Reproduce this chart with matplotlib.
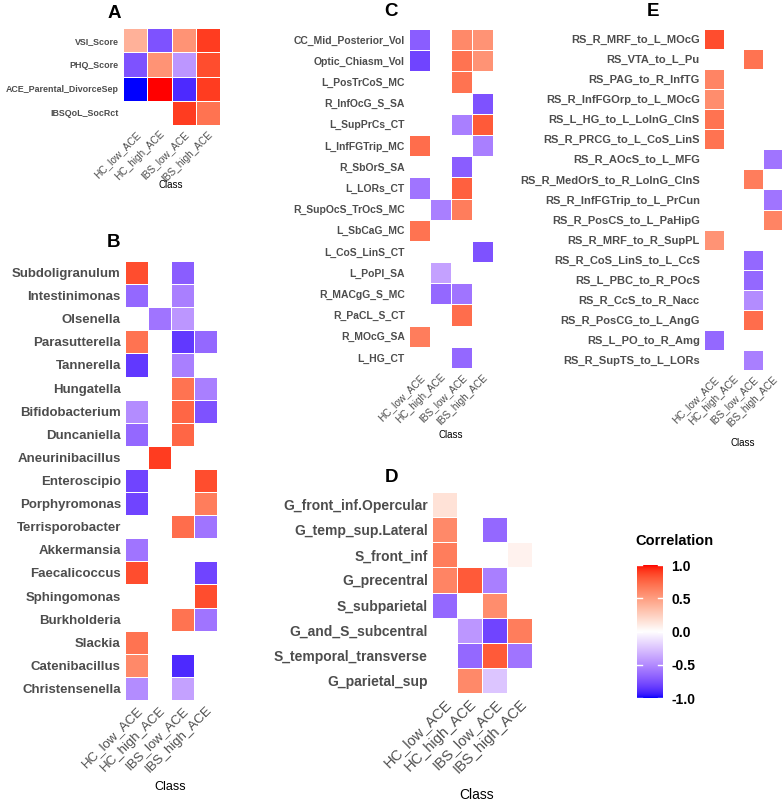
import numpy as np
import matplotlib
matplotlib.use("Agg")
import matplotlib.pyplot as plt
from matplotlib.colors import ListedColormap

plt.rcParams["font.family"] = ["Liberation Sans", "DejaVu Sans"]

NA = np.nan
CLASSES = ["HC_low_ACE", "HC_high_ACE", "IBS_low_ACE", "IBS_high_ACE"]

A_ROWS = ["VSI_Score", "PHQ_Score", "ACE_Parental_DivorceSep", "IBSQoL_SocRct"]
A_VALUES = [
    [0.40, -0.75, 0.55, 0.90],
    [-0.75, 0.55, -0.45, 0.85],
    [-1.00, 1.00, -0.90, 0.90],
    [NA, NA, 0.90, 0.70],
]

B_ROWS = ["Subdoligranulum", "Intestinimonas", "Olsenella", "Parasutterella",
          "Tannerella", "Hungatella", "Bifidobacterium", "Duncaniella",
          "Aneurinibacillus", "Enteroscipio", "Porphyromonas", "Terrisporobacter",
          "Akkermansia", "Faecalicoccus", "Sphingomonas", "Burkholderia",
          "Slackia", "Catenibacillus", "Christensenella"]
B_VALUES = [
    [0.85, NA, -0.70, NA],
    [-0.65, NA, -0.55, NA],
    [NA, -0.60, -0.45, NA],
    [0.70, NA, -0.85, -0.65],
    [-0.85, NA, -0.55, NA],
    [NA, NA, 0.70, -0.55],
    [-0.50, NA, 0.75, -0.75],
    [-0.65, NA, 0.75, NA],
    [NA, 0.90, NA, NA],
    [-0.80, NA, NA, 0.85],
    [-0.80, NA, NA, 0.65],
    [NA, NA, 0.72, -0.60],
    [-0.60, NA, NA, NA],
    [0.85, NA, NA, -0.80],
    [NA, NA, NA, 0.85],
    [NA, NA, 0.70, -0.60],
    [0.70, NA, NA, NA],
    [0.60, NA, -0.90, NA],
    [-0.50, NA, -0.40, NA],
]

C_ROWS = ["CC_Mid_Posterior_Vol", "Optic_Chiasm_Vol", "L_PosTrCoS_MC", "R_InfOcG_S_SA",
          "L_SupPrCs_CT", "L_InfFGTrip_MC", "R_SbOrS_SA", "L_LORs_CT",
          "R_SupOcS_TrOcS_MC", "L_SbCaG_MC", "L_CoS_LinS_CT", "L_PoPl_SA",
          "R_MACgG_S_MC", "R_PaCL_S_CT", "R_MOcG_SA", "L_HG_CT"]
C_VALUES = [
    [-0.70, NA, 0.60, 0.55],
    [-0.80, NA, 0.70, 0.55],
    [NA, NA, 0.70, NA],
    [NA, NA, NA, -0.75],
    [NA, NA, -0.55, 0.80],
    [0.72, NA, NA, -0.55],
    [NA, NA, -0.70, NA],
    [-0.60, NA, 0.78, NA],
    [NA, -0.55, 0.65, NA],
    [0.70, NA, NA, NA],
    [NA, NA, NA, -0.75],
    [NA, -0.40, NA, NA],
    [NA, -0.65, -0.60, NA],
    [NA, NA, 0.72, NA],
    [0.65, NA, NA, NA],
    [NA, NA, -0.65, NA],
]

D_ROWS = ["G_front_inf.Opercular", "G_temp_sup.Lateral", "S_front_inf", "G_precentral",
          "S_subparietal", "G_and_S_subcentral", "S_temporal_transverse", "G_parietal_sup"]
D_VALUES = [
    [0.15, NA, NA, NA],
    [0.60, NA, -0.65, NA],
    [0.65, NA, NA, 0.07],
    [0.62, 0.80, -0.55, NA],
    [-0.65, NA, 0.58, NA],
    [NA, -0.45, -0.80, 0.65],
    [NA, -0.65, 0.80, -0.60],
    [NA, 0.60, -0.25, NA],
]

E_ROWS = ["RS_R_MRF_to_L_MOcG", "RS_VTA_to_L_Pu", "RS_PAG_to_R_InfTG",
          "RS_R_InfFGOrp_to_L_MOcG", "RS_L_HG_to_L_LoInG_CInS", "RS_R_PRCG_to_L_CoS_LinS",
          "RS_R_AOcS_to_L_MFG", "RS_R_MedOrS_to_R_LoInG_CInS", "RS_R_InfFGTrip_to_L_PrCun",
          "RS_R_PosCS_to_L_PaHipG", "RS_R_MRF_to_R_SupPL", "RS_R_CoS_LinS_to_L_CcS",
          "RS_L_PBC_to_R_POcS", "RS_R_CcS_to_R_Nacc", "RS_R_PosCG_to_L_AngG",
          "RS_L_PO_to_R_Amg", "RS_R_SupTS_to_L_LORs"]
E_VALUES = [
    [0.85, NA, NA, NA],
    [NA, NA, 0.70, NA],
    [0.62, NA, NA, NA],
    [0.58, NA, NA, NA],
    [0.70, NA, NA, NA],
    [0.70, NA, NA, NA],
    [NA, NA, NA, -0.60],
    [NA, NA, 0.65, NA],
    [NA, NA, NA, -0.60],
    [NA, NA, NA, 0.62],
    [0.55, NA, NA, NA],
    [NA, NA, -0.65, NA],
    [NA, NA, -0.65, NA],
    [NA, NA, -0.50, NA],
    [NA, NA, 0.72, NA],
    [-0.65, NA, NA, NA],
    [NA, NA, -0.55, NA],
]

CBAR_TICKS = [-1.0, -0.5, 0.0, 0.5, 1.0]

W, H = 784, 801
GREY = "#4D4D4D"


# ggplot-style gradient2 (blue - white - red), interpolated in CIELAB
WHITE_REF = np.array([0.95047, 1.0, 1.08883])
M_RGB2XYZ = np.array([[0.4124, 0.3576, 0.1805],
                      [0.2126, 0.7152, 0.0722],
                      [0.0193, 0.1192, 0.9505]])


def rgb_to_lab(rgb):
    c = np.asarray(rgb, dtype=float)
    lin = np.where(c <= 0.04045, c / 12.92, ((c + 0.055) / 1.055) ** 2.4)
    xyz = M_RGB2XYZ @ lin / WHITE_REF
    d = 6 / 29
    f = np.where(xyz > d ** 3, np.cbrt(xyz), xyz / (3 * d * d) + 4 / 29)
    return np.array([116 * f[1] - 16, 500 * (f[0] - f[1]), 200 * (f[1] - f[2])])


def lab_to_rgb(lab):
    L, a, b = lab
    fy = (L + 16) / 116
    f = np.array([fy + a / 500, fy, fy - b / 200])
    d = 6 / 29
    xyz = np.where(f > d, f ** 3, 3 * d * d * (f - 4 / 29)) * WHITE_REF
    lin = np.linalg.solve(M_RGB2XYZ, xyz)
    lin = np.clip(lin, 0, 1)
    c = np.where(lin <= 0.0031308, 12.92 * lin, 1.055 * lin ** (1 / 2.4) - 0.055)
    return np.clip(c, 0, 1)


def make_cmap(n=256):
    blue, white, red = rgb_to_lab([0, 0, 1]), rgb_to_lab([1, 1, 1]), rgb_to_lab([1, 0, 0])
    cols = []
    for t in np.linspace(-1, 1, n):
        if t < 0:
            lab = white + (blue - white) * (-t)
        else:
            lab = white + (red - white) * t
        cols.append(lab_to_rgb(lab))
    return ListedColormap(cols)


CMAP = make_cmap()


def px_axes(fig, x, y, w, h):
    return fig.add_axes([x / W, 1 - (y + h) / H, w / W, h / H])


def draw_panel(ax, rows, values, ysize, xsize):
    data = np.ma.masked_invalid(np.array(values, dtype=float))
    ax.pcolormesh(data, cmap=CMAP, vmin=-1, vmax=1, edgecolors="white", linewidth=0.6)
    ax.set_xlim(0, len(CLASSES))
    ax.set_ylim(len(rows), 0)
    ax.set_yticks(np.arange(len(rows)) + 0.5)
    ax.set_yticklabels(rows, fontsize=ysize, fontweight="bold", color=GREY)
    ax.set_xticks(np.arange(len(CLASSES)) + 0.5)
    ax.set_xticklabels(CLASSES, fontsize=xsize, color=GREY, rotation=45,
                       ha="right", va="top", rotation_mode="anchor")
    ax.tick_params(length=0, pad=3)
    for s in ax.spines.values():
        s.set_visible(False)


def txt(fig, x, y, s, size, weight="normal"):
    fig.text(x / W, 1 - y / H, s, fontsize=size, fontweight=weight,
             ha="center", va="center", color="black")


fig = plt.figure(figsize=(W / 100, H / 100), dpi=100)

ax_a = px_axes(fig, 123, 28, 97, 97)
draw_panel(ax_a, A_ROWS, A_VALUES, 6.4, 7.2)
ax_b = px_axes(fig, 125, 261, 92, 439)
draw_panel(ax_b, B_ROWS, B_VALUES, 9.5, 9.5)
ax_c = px_axes(fig, 409, 29, 84, 339)
draw_panel(ax_c, C_ROWS, C_VALUES, 7.5, 7.2)
ax_d = px_axes(fig, 432, 492, 100, 201)
draw_panel(ax_d, D_ROWS, D_VALUES, 10, 10.5)
ax_e = px_axes(fig, 704, 29, 78, 341)
draw_panel(ax_e, E_ROWS, E_VALUES, 8, 7.2)

# panel letters and axis titles
txt(fig, 114, 13, "A", 13.5, "bold")
txt(fig, 113, 242, "B", 13.5, "bold")
txt(fig, 391, 12, "C", 13.5, "bold")
txt(fig, 392, 477, "D", 13.5, "bold")
txt(fig, 653, 12, "E", 13.5, "bold")
txt(fig, 171, 185, "Class", 7)
txt(fig, 170, 787, "Class", 9)
txt(fig, 451, 435, "Class", 7)
txt(fig, 477, 795, "Class", 10)
txt(fig, 743, 443, "Class", 7)

# colour bar
cax = px_axes(fig, 637, 565, 26, 133)
grad = np.linspace(-1, 1, 256).reshape(-1, 1)
cax.imshow(grad, cmap=CMAP, vmin=-1, vmax=1, aspect="auto", origin="lower",
           extent=[0, 1, -1, 1])
for v in CBAR_TICKS:
    cax.plot([0, 0.2], [v, v], color="white", lw=1)
    cax.plot([0.8, 1], [v, v], color="white", lw=1)
cax.set_xlim(0, 1)
cax.set_ylim(-1, 1)
cax.set_xticks([])
cax.yaxis.tick_right()
cax.set_yticks(CBAR_TICKS)
cax.set_yticklabels([f"{v:.1f}" for v in CBAR_TICKS], fontsize=10, fontweight="bold")
cax.tick_params(length=0, pad=6)
for s in cax.spines.values():
    s.set_visible(False)
fig.text(635 / W, 1 - 541 / H, "Correlation", fontsize=10.5, fontweight="bold",
         ha="left", va="center")

fig.savefig("out.png", dpi=100, facecolor="white")
